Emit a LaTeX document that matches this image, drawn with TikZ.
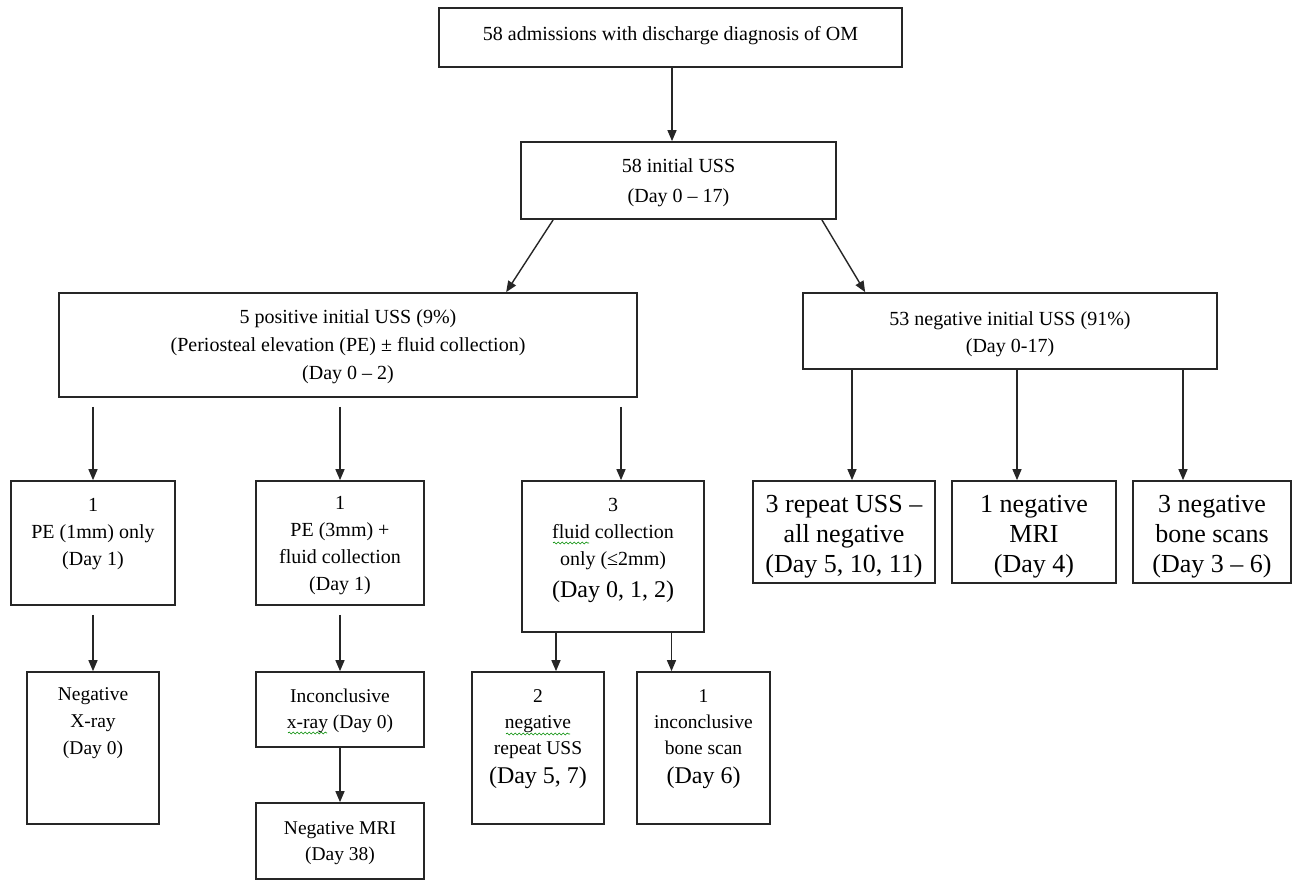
\documentclass[tikz,border=0pt]{standalone}
\usepackage{fontspec}
\setmainfont{Liberation Serif}
\newfontfamily\tnr{Liberation Serif}
\usetikzlibrary{arrows.meta,decorations.pathmorphing}
\begin{document}
\begin{tikzpicture}[x=1pt,y=-1pt,
  box/.style={draw=black!85, line width=1.7pt, rectangle, inner sep=0pt},
  arr/.style={draw=black!85, line width=1.4pt, -{Triangle[length=11pt,width=9pt]}},
  fa/.style={font=\tnr\fontsize{20}{27}\selectfont, align=center, inner sep=0pt, anchor=north},
  fb/.style={font=\tnr\fontsize{20}{27}\selectfont, align=center, inner sep=0pt, anchor=north},
  fr/.style={font=\tnr\fontsize{19.5}{26}\selectfont, align=center, inner sep=0pt, anchor=north},
  fc/.style={font=\tnr\fontsize{26}{30}\selectfont, align=center, inner sep=0pt, anchor=north},
  fbig/.style={font=\tnr\fontsize{24}{28}\selectfont, inner sep=0pt, anchor=base},
  squig/.style={draw=green!55!black, line width=0.6pt, decorate, decoration={snake, amplitude=1pt, segment length=4pt}}
]
\useasboundingbox (0,0) rectangle (1297,881);
\fill[white] (0,0) rectangle (1297,881);

% boxes
\node[box, minimum width=463, minimum height=59] (top) at (670.5,37.5) {};
\node[box, minimum width=315, minimum height=77] (uss) at (678.5,180.5) {};
\node[box, minimum width=578, minimum height=104] (pos) at (348,345) {};
\node[box, minimum width=414, minimum height=76] (neg) at (1010,331) {};
\node[box, minimum width=164, minimum height=124] (A) at (93,543) {};
\node[box, minimum width=168, minimum height=124] (B) at (340,543) {};
\node[box, minimum width=182, minimum height=151] (C) at (613,556.5) {};
\node[box, minimum width=182, minimum height=102] (D) at (844,532) {};
\node[box, minimum width=164, minimum height=102] (E) at (1034,532) {};
\node[box, minimum width=158, minimum height=102] (F) at (1212,532) {};
\node[box, minimum width=132, minimum height=152] (G) at (93,748) {};
\node[box, minimum width=168, minimum height=75] (H) at (340,709.5) {};
\node[box, minimum width=168, minimum height=76] (I) at (340,841) {};
\node[box, minimum width=132, minimum height=152] (J) at (538,748) {};
\node[box, minimum width=133, minimum height=152] (K) at (703.5,748) {};

% texts
\node[fa] (topT) at (670.5,21) {\strut 58 admissions with discharge diagnosis of OM};
\node[fa, font=\tnr\fontsize{20}{30}\selectfont] (ussT) at (678.5,151) {\strut 58 initial USS\\(Day 0 – 17)};
\node[fa, font=\tnr\fontsize{20}{28}\selectfont] (posT) at (348,303.4) {\strut 5 positive initial USS (9\%)\\(Periosteal elevation (PE) ± fluid collection)\\(Day 0 – 2)};
\node[fa] (negT) at (1010,306) {\strut 53 negative initial USS (91\%)\\(Day 0-17)};
\node[fb] (AT) at (93,492) {\strut 1\\PE (1mm) only\\(Day 1)};
\node[fb] (BT) at (340,490) {\strut 1\\PE (3mm) +\\fluid collection\\(Day 1)};
\node[fb] (CT) at (613,492) {\strut 3\\fluid collection\\only (≤2mm)};
\node[fbig] (CD) at (613,597) {(Day 0, 1, 2)};
\node[fc] (DT) at (844,491) {\strut 3 repeat USS –\\all negative\\(Day 5, 10, 11)};
\node[fc] (ET) at (1034,491) {\strut 1 negative\\MRI\\(Day 4)};
\node[fc] (FT) at (1212,491) {\strut 3 negative\\bone scans\\(Day 3 – 6)};
\node[fr, font=\tnr\fontsize{19.5}{27}\selectfont] (GT) at (93,681) {\strut Negative\\X-ray\\(Day 0)};
\node[fr] (HT) at (340,683.8) {\strut Inconclusive\\x-ray (Day 0)};
\node[fr] (IT) at (340,815.8) {\strut Negative MRI\\(Day 38)};
\node[fr] (JT) at (538,683.8) {\strut 2\\negative\\repeat USS};
\node[fbig] (JD) at (538,783) {(Day 5, 7)};
\node[fr] (KT) at (703.5,683.8) {\strut 1\\inconclusive\\bone scan};
\node[fbig] (KD) at (703.5,783) {(Day 6)};

% spell-check squiggles
\draw[squig] (553,543) -- (589,543);
\draw[squig] (288,733) -- (327,733);
\draw[squig] (506,734) -- (570,734);

% connectors
\draw[arr] ([xshift=1.5pt]top.south) -- ([xshift=1.5pt]top.south |- uss.north);
\draw[arr] ([xshift=33pt]uss.south west) -- ([xshift=448pt]pos.north west);
\draw[arr] ([xshift=-15pt]uss.south east) -- ([xshift=63pt]neg.north west);
\draw[arr] ([yshift=-9pt]A.north |- pos.south) -- (A.north);
\draw[arr] ([yshift=-9pt]B.north |- pos.south) -- (B.north);
\draw[arr] ([yshift=-9pt,xshift=8pt]C.north |- pos.south) -- ([xshift=8pt]C.north);
\draw[arr] ([xshift=8pt]D.north |- neg.south) -- ([xshift=8pt]D.north);
\draw[arr] ([xshift=-17pt]E.north |- neg.south) -- ([xshift=-17pt]E.north);
\draw[arr] ([xshift=-29pt]F.north |- neg.south) -- ([xshift=-29pt]F.north);
\draw[arr] ([yshift=-9pt]G.north |- A.south) -- (G.north);
\draw[arr] ([yshift=-9pt]H.north |- B.south) -- (H.north);
\draw[arr] (H.south) -- (I.north);
\draw[arr] ([xshift=18pt]J.north |- C.south) -- ([xshift=18pt]J.north);
\draw[arr] ([xshift=-32pt]K.north |- C.south) -- ([xshift=-32pt]K.north);
\end{tikzpicture}
\end{document}
